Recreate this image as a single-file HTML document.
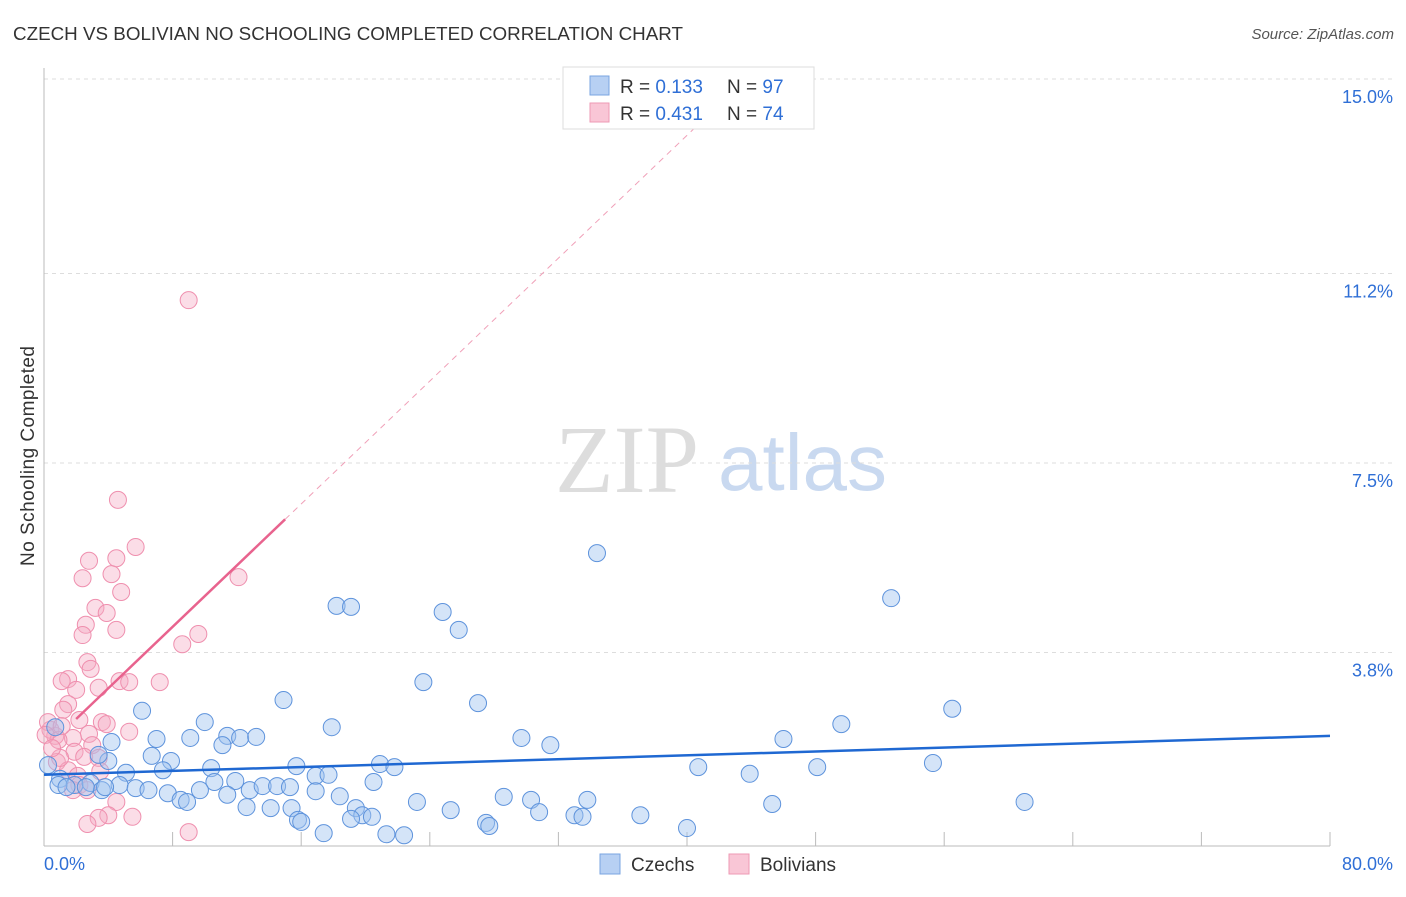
<!DOCTYPE html>
<html><head><meta charset="utf-8"><style>
body{margin:0;background:#fff;font-family:"Liberation Sans",sans-serif}
</style></head><body>
<svg width="1406" height="892" xmlns="http://www.w3.org/2000/svg">
<text x="13" y="40" font-size="18" fill="#333" textLength="670" lengthAdjust="spacingAndGlyphs">CZECH VS BOLIVIAN NO SCHOOLING COMPLETED CORRELATION CHART</text>
<text x="1394" y="39" font-size="15" fill="#555" font-style="italic" text-anchor="end">Source: ZipAtlas.com</text>
<text x="34" y="456" font-size="19" fill="#333" transform="rotate(-90 34 456)" text-anchor="middle" textLength="220">No Schooling Completed</text>
<text x="555" y="492" font-size="96" fill="#ddd" font-family="Liberation Serif">ZIP</text>
<text x="718" y="490" font-size="80" fill="#c9d9f0">atlas</text>
<g id="grid"></g>
<g id="axes"></g>
<g id="marks"></g>
<g>
<rect x="563" y="67" width="251" height="62" fill="#fff" stroke="#ddd"/>
<rect x="590" y="76" width="19" height="19" fill="#b7d0f3" stroke="#7aa4e0"/>
<rect x="590" y="103" width="19" height="19" fill="#f9c6d6" stroke="#ee9ab4"/>
<text x="620" y="93" font-size="19" fill="#333">R = <tspan fill="#2f6fd6">0.133</tspan><tspan x="727">N = </tspan><tspan fill="#2f6fd6">97</tspan></text>
<text x="620" y="120" font-size="19" fill="#333">R = <tspan fill="#2f6fd6">0.431</tspan><tspan x="727">N = </tspan><tspan fill="#2f6fd6">74</tspan></text>
</g>
<g>
<rect x="600" y="854" width="20" height="20" fill="#b7d0f3" stroke="#7aa4e0"/>
<text x="631" y="871" font-size="19" fill="#333">Czechs</text>
<rect x="729" y="854" width="20" height="20" fill="#f9c6d6" stroke="#ee9ab4"/>
<text x="760" y="871" font-size="19" fill="#333">Bolivians</text>
</g>
</svg>
<script>
const yTicks=[15.0,11.2,7.5,3.8];
const yTickLabels=["15.0%","11.2%","7.5%","3.8%"];
const xLabels=["0.0%","80.0%"];
const czechX=[34.4,52.7,18.2,19.1,24.8,25.8,23.6,14.9,27.0,56.5,49.6,17.9,10.0,6.1,29.7,31.5,46.0,9.1,7.0,11.4,12.2,13.2,11.1,4.2,6.7,7.9,4.0,3.4,7.4,10.4,15.7,20.9,21.8,40.7,48.1,55.3,43.9,16.9,17.7,20.5,11.9,10.6,5.1,4.7,5.7,6.5,1.0,1.9,2.9,3.6,12.8,13.6,14.5,15.3,16.9,18.4,7.7,8.5,8.9,9.7,11.4,12.6,14.1,15.4,19.4,19.8,20.4,23.2,25.3,28.6,30.3,30.8,33.0,33.5,33.8,37.1,40.0,45.3,61.0,15.8,16.0,17.4,19.1,21.3,22.4,27.5,27.7,0.9,0.25,1.4,2.6,3.8,0.7];
const czechY=[5.74,4.86,4.71,4.69,4.59,4.24,3.22,2.87,2.81,2.70,2.40,2.34,2.44,2.66,2.13,1.99,2.11,2.13,2.11,2.17,2.13,2.15,1.99,2.05,1.78,1.68,1.68,1.80,1.50,1.54,1.58,1.62,1.56,1.56,1.56,1.64,1.43,1.39,1.41,1.27,1.29,1.27,1.45,1.21,1.15,1.11,1.33,1.21,1.25,1.11,1.11,1.19,1.19,1.17,1.09,0.99,1.05,0.92,0.88,1.11,1.02,0.78,0.76,0.76,0.76,0.62,0.59,0.88,0.72,0.98,0.92,0.68,0.62,0.59,0.92,0.62,0.37,0.84,0.88,0.53,0.49,0.27,0.55,0.25,0.23,0.47,0.41,1.21,1.60,1.17,1.17,1.17,2.34];
const bolX=[9.0,4.6,5.7,2.8,4.5,2.4,4.2,12.1,4.8,3.2,3.9,2.6,4.5,2.4,9.6,8.6,2.7,2.9,1.5,1.1,2.0,3.4,4.7,5.3,7.2,1.5,1.2,3.6,3.9,2.2,5.3,2.8,1.8,0.7,0.4,0.25,0.9,1.1,3.0,1.9,2.5,3.4,0.8,1.5,2.1,3.5,1.0,2.2,1.8,2.7,4.5,4.0,5.5,3.4,2.7,9.0,0.1,0.5];
const bolY=[10.68,6.78,5.86,5.59,5.64,5.25,5.33,5.27,4.98,4.67,4.57,4.34,4.24,4.14,4.16,3.96,3.61,3.48,3.28,3.24,3.07,3.11,3.24,3.22,3.22,2.79,2.68,2.44,2.40,2.48,2.25,2.21,2.13,2.17,2.29,2.44,2.09,2.36,1.99,1.86,1.76,1.74,1.66,1.50,1.39,1.48,1.74,1.21,1.11,1.11,0.88,0.62,0.59,0.57,0.45,0.29,2.19,1.93];
const czechTrend=[1.41,2.17]; // y at x=0 and x=80
const bolTrend=[1.90,0.30]; // intercept, slope
const NS="http://www.w3.org/2000/svg";
const X=v=>44+v/80*1286, Y=v=>847-v*51.2;
function mk(t,a,p){const e=document.createElementNS(NS,t);for(const k in a)e.setAttribute(k,a[k]);document.getElementById(p).appendChild(e);return e;}
yTicks.forEach((t,i)=>{
 const g=mk('line',{x1:44,x2:1395,y1:Y(t),y2:Y(t),stroke:'#ddd','stroke-dasharray':'4,4'},'grid');
 
 
 const l=mk('text',{x:1393,y:Y(t)+24,'font-size':18,fill:'#2f6fd6','text-anchor':'end'},'grid');l.textContent=yTickLabels[i];
 
 
});
const ax=mk('line',{x1:44,x2:44,y1:68,y2:846,stroke:'#bbb'},'axes');


const bx=mk('line',{x1:44,x2:1330,y1:846,y2:846,stroke:'#bbb'},'axes');


for(let i=1;i<=10;i++){const t=mk('line',{x1:X(i*8),x2:X(i*8),y1:832,y2:846,stroke:'#bbb'},'axes');
 
 }
[[0,'start',44],[1,'end',1393]].forEach(([i,a,x])=>{const t=mk('text',{x:x,y:870,'font-size':18,fill:'#2f6fd6','text-anchor':a},'axes');t.textContent=xLabels[i];
 
 });
bolX.forEach((v,i)=>{const c=mk('circle',{cx:X(v),cy:Y(bolY[i]),r:8.5,fill:'rgba(246,170,195,0.4)',stroke:'#ef8fae','stroke-width':1},'marks');
 
 });
czechX.forEach((v,i)=>{const c=mk('circle',{cx:X(v),cy:Y(czechY[i]),r:8.5,fill:'rgba(160,195,240,0.45)',stroke:'#5e93dc','stroke-width':1},'marks');
 
 });
const ct=mk('line',{x1:X(0),y1:Y(czechTrend[0]),x2:X(80),y2:Y(czechTrend[1]),stroke:'#1f68d2','stroke-width':2.5},'marks');


const bx2=(15-bolTrend[0])/bolTrend[1];
const bd=mk('line',{x1:X(15),y1:Y(bolTrend[0]+bolTrend[1]*15),x2:X(bx2),y2:Y(15),stroke:'#f0a0b8','stroke-width':1,'stroke-dasharray':'6,5'},'marks');


const bt=mk('line',{x1:X(2),y1:Y(bolTrend[0]+bolTrend[1]*2),x2:X(15),y2:Y(bolTrend[0]+bolTrend[1]*15),stroke:'#e8638e','stroke-width':2.5},'marks');


</script>
</body></html>
